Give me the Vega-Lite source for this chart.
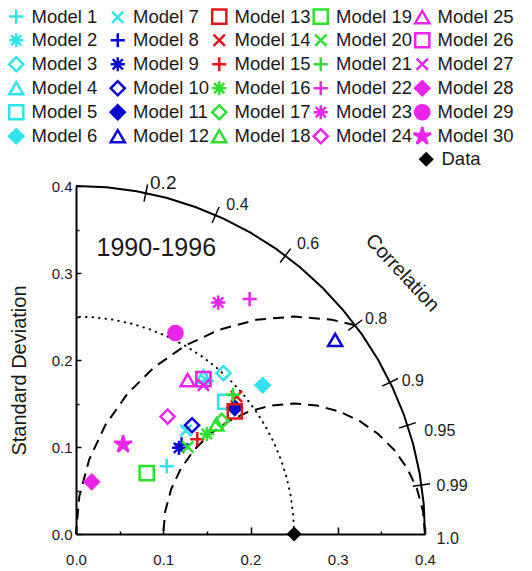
{
  "$schema": "https://vega.github.io/schema/vega-lite/v6.json",
  "autosize": {"type": "none"},
  "padding": {"left": 76, "top": 186, "right": 107, "bottom": 37},
  "width": 349,
  "height": 348,
  "background": "white",
  "config": {
    "view": {"stroke": null},
    "font": "Liberation Sans",
    "text": {"font": "Liberation Sans", "color": "#1a1a1a"}
  },
  "datasets": {
    "models": [
      {"model": "Model 1", "x": 0.104, "y": 0.078},
      {"model": "Model 2", "x": 0.150, "y": 0.176},
      {"model": "Model 3", "x": 0.169, "y": 0.185},
      {"model": "Model 4", "x": 0.146, "y": 0.181},
      {"model": "Model 5", "x": 0.171, "y": 0.152},
      {"model": "Model 6", "x": 0.214, "y": 0.171},
      {"model": "Model 7", "x": 0.126, "y": 0.119},
      {"model": "Model 8", "x": 0.121, "y": 0.103},
      {"model": "Model 9", "x": 0.118, "y": 0.099},
      {"model": "Model 10", "x": 0.133, "y": 0.125},
      {"model": "Model 11", "x": 0.182, "y": 0.145},
      {"model": "Model 12", "x": 0.297, "y": 0.223},
      {"model": "Model 13", "x": 0.182, "y": 0.141},
      {"model": "Model 14", "x": 0.184, "y": 0.158},
      {"model": "Model 15", "x": 0.139, "y": 0.109},
      {"model": "Model 16", "x": 0.150, "y": 0.115},
      {"model": "Model 17", "x": 0.167, "y": 0.130},
      {"model": "Model 18", "x": 0.161, "y": 0.126},
      {"model": "Model 19", "x": 0.081, "y": 0.070},
      {"model": "Model 20", "x": 0.128, "y": 0.100},
      {"model": "Model 21", "x": 0.180, "y": 0.160},
      {"model": "Model 22", "x": 0.199, "y": 0.270},
      {"model": "Model 23", "x": 0.163, "y": 0.266},
      {"model": "Model 24", "x": 0.105, "y": 0.135},
      {"model": "Model 25", "x": 0.128, "y": 0.177},
      {"model": "Model 26", "x": 0.146, "y": 0.178},
      {"model": "Model 27", "x": 0.146, "y": 0.171},
      {"model": "Model 28", "x": 0.018, "y": 0.060},
      {"model": "Model 29", "x": 0.114, "y": 0.231},
      {"model": "Model 30", "x": 0.054, "y": 0.103}
    ],
    "obs": [{"name": "Data", "x": 0.25, "y": 0}],
    "arcs": [
      {"arc": "outer", "i": 0, "x": 0.4, "y": 0},
      {"arc": "outer", "i": 1, "x": 0.3985, "y": 0.0349},
      {"arc": "outer", "i": 2, "x": 0.3939, "y": 0.0695},
      {"arc": "outer", "i": 3, "x": 0.3864, "y": 0.1035},
      {"arc": "outer", "i": 4, "x": 0.3759, "y": 0.1368},
      {"arc": "outer", "i": 5, "x": 0.3625, "y": 0.169},
      {"arc": "outer", "i": 6, "x": 0.3464, "y": 0.2},
      {"arc": "outer", "i": 7, "x": 0.3277, "y": 0.2294},
      {"arc": "outer", "i": 8, "x": 0.3064, "y": 0.2571},
      {"arc": "outer", "i": 9, "x": 0.2828, "y": 0.2828},
      {"arc": "outer", "i": 10, "x": 0.2571, "y": 0.3064},
      {"arc": "outer", "i": 11, "x": 0.2294, "y": 0.3277},
      {"arc": "outer", "i": 12, "x": 0.2, "y": 0.3464},
      {"arc": "outer", "i": 13, "x": 0.169, "y": 0.3625},
      {"arc": "outer", "i": 14, "x": 0.1368, "y": 0.3759},
      {"arc": "outer", "i": 15, "x": 0.1035, "y": 0.3864},
      {"arc": "outer", "i": 16, "x": 0.0695, "y": 0.3939},
      {"arc": "outer", "i": 17, "x": 0.0349, "y": 0.3985},
      {"arc": "outer", "i": 18, "x": 0, "y": 0.4},
      {"arc": "dotted", "i": 0, "x": 0.25, "y": 0},
      {"arc": "dotted", "i": 1, "x": 0.249, "y": 0.0218},
      {"arc": "dotted", "i": 2, "x": 0.2462, "y": 0.0434},
      {"arc": "dotted", "i": 3, "x": 0.2415, "y": 0.0647},
      {"arc": "dotted", "i": 4, "x": 0.2349, "y": 0.0855},
      {"arc": "dotted", "i": 5, "x": 0.2266, "y": 0.1057},
      {"arc": "dotted", "i": 6, "x": 0.2165, "y": 0.125},
      {"arc": "dotted", "i": 7, "x": 0.2048, "y": 0.1434},
      {"arc": "dotted", "i": 8, "x": 0.1915, "y": 0.1607},
      {"arc": "dotted", "i": 9, "x": 0.1768, "y": 0.1768},
      {"arc": "dotted", "i": 10, "x": 0.1607, "y": 0.1915},
      {"arc": "dotted", "i": 11, "x": 0.1434, "y": 0.2048},
      {"arc": "dotted", "i": 12, "x": 0.125, "y": 0.2165},
      {"arc": "dotted", "i": 13, "x": 0.1057, "y": 0.2266},
      {"arc": "dotted", "i": 14, "x": 0.0855, "y": 0.2349},
      {"arc": "dotted", "i": 15, "x": 0.0647, "y": 0.2415},
      {"arc": "dotted", "i": 16, "x": 0.0434, "y": 0.2462},
      {"arc": "dotted", "i": 17, "x": 0.0218, "y": 0.249},
      {"arc": "dotted", "i": 18, "x": 0, "y": 0.25},
      {"arc": "rms15", "i": 0, "x": 0.4, "y": 0},
      {"arc": "rms15", "i": 1, "x": 0.3977, "y": 0.0261},
      {"arc": "rms15", "i": 2, "x": 0.391, "y": 0.0513},
      {"arc": "rms15", "i": 3, "x": 0.3799, "y": 0.075},
      {"arc": "rms15", "i": 4, "x": 0.3649, "y": 0.0964},
      {"arc": "rms15", "i": 5, "x": 0.3464, "y": 0.1149},
      {"arc": "rms15", "i": 6, "x": 0.325, "y": 0.1299},
      {"arc": "rms15", "i": 7, "x": 0.3013, "y": 0.141},
      {"arc": "rms15", "i": 8, "x": 0.276, "y": 0.1477},
      {"arc": "rms15", "i": 9, "x": 0.25, "y": 0.15},
      {"arc": "rms15", "i": 10, "x": 0.224, "y": 0.1477},
      {"arc": "rms15", "i": 11, "x": 0.1987, "y": 0.141},
      {"arc": "rms15", "i": 12, "x": 0.175, "y": 0.1299},
      {"arc": "rms15", "i": 13, "x": 0.1536, "y": 0.1149},
      {"arc": "rms15", "i": 14, "x": 0.1351, "y": 0.0964},
      {"arc": "rms15", "i": 15, "x": 0.1201, "y": 0.075},
      {"arc": "rms15", "i": 16, "x": 0.109, "y": 0.0513},
      {"arc": "rms15", "i": 17, "x": 0.1023, "y": 0.0261},
      {"arc": "rms15", "i": 18, "x": 0.1, "y": 0},
      {"arc": "rms25", "i": 0, "x": 0.32, "y": 0.24},
      {"arc": "rms25", "i": 1, "x": 0.2934, "y": 0.2462},
      {"arc": "rms25", "i": 2, "x": 0.25, "y": 0.25},
      {"arc": "rms25", "i": 3, "x": 0.2066, "y": 0.2462},
      {"arc": "rms25", "i": 4, "x": 0.1645, "y": 0.2349},
      {"arc": "rms25", "i": 5, "x": 0.125, "y": 0.2165},
      {"arc": "rms25", "i": 6, "x": 0.0893, "y": 0.1915},
      {"arc": "rms25", "i": 7, "x": 0.0585, "y": 0.1607},
      {"arc": "rms25", "i": 8, "x": 0.0335, "y": 0.125},
      {"arc": "rms25", "i": 9, "x": 0.0151, "y": 0.0855},
      {"arc": "rms25", "i": 10, "x": 0.0038, "y": 0.0434},
      {"arc": "rms25", "i": 11, "x": 0, "y": 0}
    ],
    "corrTicks": [
      {"corr": 0.2, "x": 0.078, "y": 0.3821, "x2": 0.082, "y2": 0.4017},
      {"corr": 0.4, "x": 0.156, "y": 0.3574, "x2": 0.164, "y2": 0.3758},
      {"corr": 0.6, "x": 0.234, "y": 0.312, "x2": 0.246, "y2": 0.328},
      {"corr": 0.8, "x": 0.312, "y": 0.234, "x2": 0.328, "y2": 0.246},
      {"corr": 0.9, "x": 0.351, "y": 0.17, "x2": 0.369, "y2": 0.1787},
      {"corr": 0.95, "x": 0.3705, "y": 0.1218, "x2": 0.3895, "y2": 0.128},
      {"corr": 0.99, "x": 0.3861, "y": 0.055, "x2": 0.4059, "y2": 0.0578}
    ],
    "corrLabels": [
      {"label": "0.2", "x": 0.1, "y": 0.403},
      {"label": "0.4", "x": 0.185, "y": 0.378},
      {"label": "0.6", "x": 0.266, "y": 0.333},
      {"label": "0.8", "x": 0.344, "y": 0.247},
      {"label": "0.9", "x": 0.386, "y": 0.176},
      {"label": "0.95", "x": 0.417, "y": 0.118},
      {"label": "0.99", "x": 0.431, "y": 0.055},
      {"label": "1.0", "x": 0.426, "y": -0.006}
    ],
    "notes": [
      {"note": "1990-1996", "x": 0.092, "y": 0.329},
      {"note": "Correlation", "x": 0.374, "y": 0.3}
    ]
  },
  "encoding": {
    "x": {
      "field": "x", "type": "quantitative",
      "scale": {"domain": [0, 0.4], "nice": false, "zero": false},
      "axis": {
        "values": [0, 0.05, 0.1, 0.15, 0.2, 0.25, 0.3, 0.35, 0.4],
        "labelExpr": "round(datum.value*20)%2==0 ? format(datum.value,'.1f') : ''",
        "title": null, "grid": false,
        "domainColor": "black", "domainWidth": 2,
        "tickColor": "black", "tickWidth": 1.5,
        "tickSize": {"condition": {"test": "round(datum.value*20)%2==0", "value": -7}, "value": -3},
        "labelFontSize": 15, "labelColor": "#1a1a1a", "labelFont": "Liberation Sans",
        "labelPadding": 25, "labelFlush": false, "labelOverlap": false
      }
    },
    "y": {
      "field": "y", "type": "quantitative",
      "scale": {"domain": [0, 0.4], "nice": false, "zero": false},
      "axis": {
        "values": [0, 0.05, 0.1, 0.15, 0.2, 0.25, 0.3, 0.35, 0.4],
        "labelExpr": "round(datum.value*20)%2==0 ? format(datum.value,'.1f') : ''",
        "title": "Standard Deviation", "grid": false,
        "domainColor": "black", "domainWidth": 2,
        "tickColor": "black", "tickWidth": 1.5,
        "tickSize": {"condition": {"test": "round(datum.value*20)%2==0", "value": -5}, "value": -3},
        "labelFontSize": 15, "labelColor": "#1a1a1a", "labelFont": "Liberation Sans",
        "labelPadding": 9, "labelFlush": false, "labelOverlap": false,
        "titleFontSize": 20, "titleFontWeight": "normal", "titleColor": "#1a1a1a",
        "titleFont": "Liberation Sans", "titlePadding": 22, "titleY": 184
      }
    }
  },
  "layer": [
    {
      "data": {"name": "arcs"},
      "transform": [{"filter": "datum.arc == 'outer'"}],
      "mark": {"type": "line", "color": "black", "strokeWidth": 2},
      "encoding": {"order": {"field": "i", "type": "quantitative"}}
    },
    {
      "data": {"name": "arcs"},
      "transform": [{"filter": "datum.arc == 'rms15' || datum.arc == 'rms25'"}],
      "mark": {"type": "line", "color": "black", "strokeWidth": 2, "strokeDash": [11, 7]},
      "encoding": {"order": {"field": "i", "type": "quantitative"}, "detail": {"field": "arc", "type": "nominal"}}
    },
    {
      "data": {"name": "arcs"},
      "transform": [{"filter": "datum.arc == 'dotted'"}],
      "mark": {"type": "line", "color": "black", "strokeWidth": 2, "strokeDash": [0.5, 6], "strokeCap": "round"},
      "encoding": {"order": {"field": "i", "type": "quantitative"}}
    },
    {
      "data": {"name": "corrTicks"},
      "mark": {"type": "rule", "color": "black", "strokeWidth": 1.5},
      "encoding": {"x2": {"field": "x2"}, "y2": {"field": "y2"}}
    },
    {
      "data": {"name": "corrLabels"},
      "mark": {"type": "text", "align": "center", "baseline": "middle", "font": "Liberation Sans", "color": "#1a1a1a"},
      "encoding": {
        "text": {"field": "label", "type": "nominal"},
        "size": {"condition": {"test": "datum.label == '0.2'", "value": 19}, "value": 16}
      }
    },
    {
      "data": {"name": "notes"},
      "transform": [{"filter": "datum.note == '1990-1996'"}],
      "mark": {"type": "text", "align": "center", "baseline": "middle", "fontSize": 25, "font": "Liberation Sans", "color": "#1a1a1a"},
      "encoding": {"text": {"field": "note", "type": "nominal"}}
    },
    {
      "data": {"name": "notes"},
      "transform": [{"filter": "datum.note == 'Correlation'"}],
      "mark": {"type": "text", "align": "center", "baseline": "middle", "fontSize": 20, "angle": 47, "font": "Liberation Sans", "color": "#1a1a1a"},
      "encoding": {"text": {"field": "note", "type": "nominal"}}
    },
    {
      "data": {"name": "models"},
      "mark": {"type": "point", "size": 200, "strokeWidth": 2.5, "opacity": 1},
      "encoding": {
        "shape": {
          "field": "model", "type": "nominal",
          "scale": {
            "domain": ["Model 1","Model 2","Model 3","Model 4","Model 5","Model 6","Model 7","Model 8","Model 9","Model 10","Model 11","Model 12","Model 13","Model 14","Model 15","Model 16","Model 17","Model 18","Model 19","Model 20","Model 21","Model 22","Model 23","Model 24","Model 25","Model 26","Model 27","Model 28","Model 29","Model 30"],
            "range": [
              "M-1,0L1,0M0,-1L0,1",
              "M-1,0L1,0M0,-1L0,1M-0.72,-0.72L0.72,0.72M-0.72,0.72L0.72,-0.72",
              "diamond", "triangle-up", "square", "diamond",
              "M-0.8,-0.8L0.8,0.8M-0.8,0.8L0.8,-0.8",
              "M-1,0L1,0M0,-1L0,1",
              "M-1,0L1,0M0,-1L0,1M-0.72,-0.72L0.72,0.72M-0.72,0.72L0.72,-0.72",
              "diamond", "diamond", "triangle-up",
              "square",
              "M-0.8,-0.8L0.8,0.8M-0.8,0.8L0.8,-0.8",
              "M-1,0L1,0M0,-1L0,1",
              "M-1,0L1,0M0,-1L0,1M-0.72,-0.72L0.72,0.72M-0.72,0.72L0.72,-0.72",
              "diamond", "triangle-up",
              "square",
              "M-0.8,-0.8L0.8,0.8M-0.8,0.8L0.8,-0.8",
              "M-1,0L1,0M0,-1L0,1",
              "M-1,0L1,0M0,-1L0,1",
              "M-1,0L1,0M0,-1L0,1M-0.72,-0.72L0.72,0.72M-0.72,0.72L0.72,-0.72",
              "diamond", "triangle-up", "square",
              "M-0.8,-0.8L0.8,0.8M-0.8,0.8L0.8,-0.8",
              "diamond", "circle",
              "M0,-1.3L0.229,-0.316L1.236,-0.402L0.371,0.121L0.764,1.052L0,0.39L-0.764,1.052L-0.371,0.121L-1.236,-0.402L-0.229,-0.316Z"
            ]
          },
          "legend": {"orient": "none", "direction": "vertical", "legendX": -69, "legendY": -179, "columns": 5, "columnPadding": -4.5, "rowPadding": -3, "gridAlign": "all", "title": null, "padding": 0, "labelFontSize": 18.5, "labelFont": "Liberation Sans", "labelColor": "#1a1a1a", "labelOffset": 6, "symbolStrokeWidth": 2.5, "symbolSize": 200, "labelLimit": 200}
        },
        "stroke": {
          "field": "model", "type": "nominal",
          "scale": {
            "domain": ["Model 1","Model 2","Model 3","Model 4","Model 5","Model 6","Model 7","Model 8","Model 9","Model 10","Model 11","Model 12","Model 13","Model 14","Model 15","Model 16","Model 17","Model 18","Model 19","Model 20","Model 21","Model 22","Model 23","Model 24","Model 25","Model 26","Model 27","Model 28","Model 29","Model 30"],
            "range": [
              "#30e3ee", "#30e3ee", "#30e3ee", "#30e3ee", "#30e3ee", "#30e3ee",
              "#30e3ee", "#0a0ad2", "#0a0ad2", "#0a0ad2", "#0a0ad2", "#0a0ad2",
              "#e01818", "#e01818", "#e01818", "#2ee02e", "#2ee02e", "#2ee02e",
              "#2ee02e", "#2ee02e", "#2ee02e", "#ec24ec", "#ec24ec", "#ec24ec",
              "#ec24ec", "#ec24ec", "#ec24ec", "#ec24ec", "#ec24ec", "#ec24ec"
            ]
          }
        },
        "fill": {
          "field": "model", "type": "nominal",
          "scale": {
            "domain": ["Model 1","Model 2","Model 3","Model 4","Model 5","Model 6","Model 7","Model 8","Model 9","Model 10","Model 11","Model 12","Model 13","Model 14","Model 15","Model 16","Model 17","Model 18","Model 19","Model 20","Model 21","Model 22","Model 23","Model 24","Model 25","Model 26","Model 27","Model 28","Model 29","Model 30"],
            "range": [
              "transparent", "transparent", "transparent", "transparent", "transparent", "#30e3ee",
              "transparent", "transparent", "transparent", "transparent", "#0a0ad2", "transparent",
              "transparent", "transparent", "transparent", "transparent", "transparent", "transparent",
              "transparent", "transparent", "transparent", "transparent", "transparent", "transparent",
              "transparent", "transparent", "transparent", "#ec24ec", "#ec24ec", "#ec24ec"
            ]
          }
        }
      }
    },
    {
      "data": {"name": "obs"},
      "mark": {"type": "point", "filled": true, "shape": "diamond", "color": "black", "size": 230},
      "encoding": {
        "opacity": {
          "field": "name", "type": "ordinal",
          "scale": {"domain": ["Data"], "range": [1]},
          "legend": {"orient": "none", "legendX": 341, "legendY": -36, "title": null, "padding": 0, "labelFontSize": 18.5, "labelFont": "Liberation Sans", "labelColor": "#1a1a1a", "labelOffset": 6, "symbolType": "diamond", "symbolSize": 230, "symbolFillColor": "black", "symbolStrokeColor": "black", "symbolStrokeWidth": 0}
        }
      }
    }
  ]
}
